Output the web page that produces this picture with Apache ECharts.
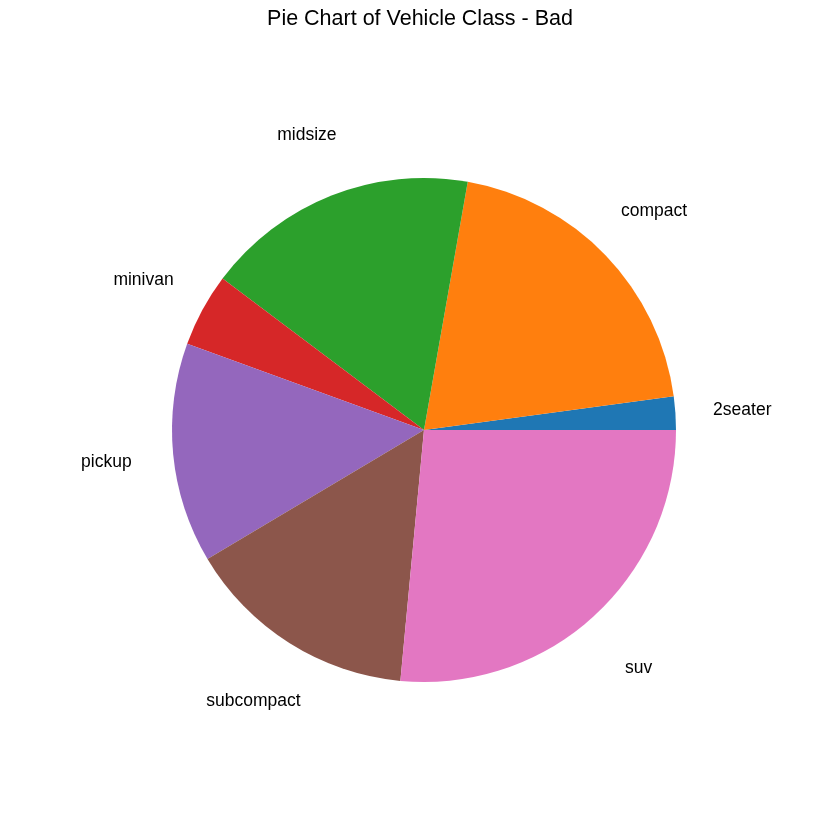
<!DOCTYPE html>
<html>
<head>
<meta charset="utf-8">
<script src="https://cdn.jsdelivr.net/npm/echarts@6/dist/echarts.min.js"></script>
<style>html,body{margin:0;padding:0;background:#fff}#c{width:840px;height:840px}</style>
</head>
<body>
<div id="c"></div>
<script>
const categories = ["2seater", "compact", "midsize", "minivan", "pickup", "subcompact", "suv"];
const counts = [5, 47, 41, 11, 33, 35, 62];
const colors = ["#1f77b4", "#ff7f0e", "#2ca02c", "#d62728", "#9467bd", "#8c564b", "#e377c2"];
const titleText = "Pie Chart of Vehicle Class - Bad";

const data = categories.map((c, i) => ({name: c, value: counts[i]}));
const chart = echarts.init(document.getElementById('c'), null, {renderer: 'canvas'});
chart.setOption({
  backgroundColor: '#ffffff',
  animation: false,
  title: {
    text: titleText, left: 'center', top: 3,
    textStyle: {fontFamily: 'Liberation Sans, Arial, sans-serif', fontSize: 21.5, fontWeight: 'normal', color: '#000'}
  },
  series: [{
    type: 'pie',
    center: [424, 430],
    radius: [0, 252],
    startAngle: 0,
    clockwise: false,
    avoidLabelOverlap: false,
    color: colors,
    itemStyle: {borderWidth: 0},
    label: {show: false},
    labelLine: {show: false},
    emphasis: {disabled: true},
    data: data
  }, {
    type: 'pie',
    center: [424, 432],
    radius: [252, 380],
    startAngle: 0,
    clockwise: false,
    avoidLabelOverlap: false,
    silent: true,
    itemStyle: {color: 'rgba(0,0,0,0)', borderWidth: 0},
    label: {
      show: true, position: 'inside', rotate: 0, color: '#000',
      fontFamily: 'Liberation Sans, Arial, sans-serif', fontSize: 17.5,
      align: 'center', verticalAlign: 'middle'
    },
    labelLine: {show: false},
    emphasis: {disabled: true},
    data: data
  }]
});
</script>
</body>
</html>
